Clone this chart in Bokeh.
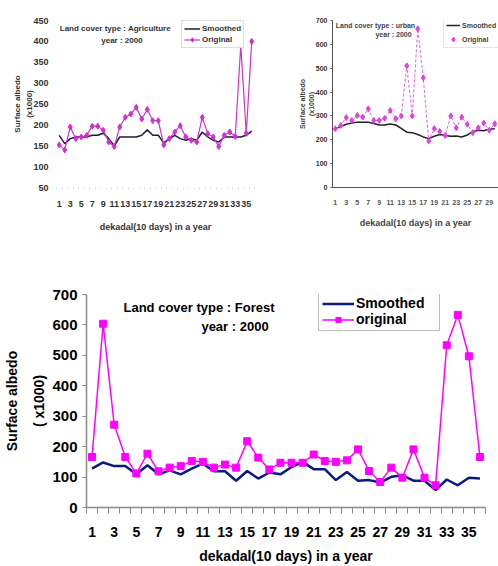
from bokeh.plotting import figure
from bokeh.models import Range1d, FixedTicker, Label, Legend, LegendItem
from bokeh.layouts import column, row
from bokeh.embed import file_html
from bokeh.resources import INLINE

# ---------------- data ----------------
dekads36 = list(range(1, 37))
dekads30 = list(range(1, 31))

agri_smoothed = [175, 155, 167, 171, 171, 171, 175, 175, 180, 167, 150, 171,
                 171, 171, 171, 175, 188, 175, 175, 157, 167, 175, 167, 163,
                 167, 163, 183, 171, 163, 159, 171, 171, 171, 171, 175, 185]
agri_original = [152, 140, 195, 167, 171, 175, 197, 197, 187, 159, 148, 195,
                 218, 226, 242, 214, 237, 210, 210, 152, 167, 183, 198, 171,
                 163, 159, 218, 179, 171, 148, 175, 183, 172, 390, 180, 400]

urban_smoothed = [246, 255, 265, 270, 274, 274, 274, 268, 262, 262, 266, 262,
                  248, 232, 230, 222, 212, 205, 215, 222, 218, 215, 216, 212,
                  220, 235, 240, 238, 244, 246]
urban_original = [246, 260, 293, 281, 302, 295, 330, 281, 281, 290, 323, 288,
                  300, 510, 300, 665, 460, 195, 247, 235, 218, 300, 250, 295,
                  265, 230, 250, 270, 240, 267]

forest_smoothed = [128, 148, 136, 136, 109, 139, 109, 122, 109, 128, 144, 119,
                   119, 88, 120, 95, 115, 109, 133, 150, 126, 126, 90, 117,
                   88, 90, 82, 101, 106, 88, 88, 57, 92, 73, 98, 95]
forest_original = [166, 604, 272, 166, 112, 177, 119, 131, 136, 153, 150, 131,
                   141, 131, 218, 164, 125, 147, 147, 147, 174, 153, 150, 155,
                   191, 120, 84, 131, 98, 191, 98, 73, 533, 633, 497, 166]

odd_ticks_36 = list(range(1, 37, 2))
odd_ticks_30 = list(range(1, 31, 2))
bounds_36 = [i + 0.5 for i in range(0, 37)]
agri_yticks = list(range(50, 451, 50))
albedo_yticks = list(range(0, 701, 100))

FONT = "Liberation Sans"


def base_fig(w, h, xr, yr, bl, br, bt, bb):
    p = figure(width=w, height=h, x_range=xr, y_range=yr,
               output_backend="svg", toolbar_location=None,
               min_border_left=bl, min_border_right=br,
               min_border_top=bt, min_border_bottom=bb)
    p.xgrid.visible = False
    p.ygrid.visible = False
    p.outline_line_color = None
    p.background_fill_color = "white"
    p.border_fill_color = "white"
    for ax in (p.xaxis, p.yaxis):
        ax.major_label_text_font = FONT
        ax.major_label_text_font_style = "bold"
        ax.axis_label_text_font = FONT
        ax.axis_label_text_font_style = "bold"
    return p


def add_data_label(p, text, x, y, size, color="black"):
    p.add_layout(Label(x=x, y=y, text=text, text_align="center",
                       text_baseline="middle", text_font=FONT,
                       text_font_style="bold", text_font_size=size,
                       text_color=color))


# ---------------- top-left: agriculture ----------------
p1 = base_fig(290, 266, Range1d(0.5, 36.5), Range1d(50, 450), 56, 36, 19, 76)
p1.xaxis.ticker = FixedTicker(ticks=odd_ticks_36, minor_ticks=bounds_36)
p1.yaxis.ticker = FixedTicker(ticks=agri_yticks)
p1.xaxis.axis_line_color = None
p1.yaxis.axis_line_color = None
p1.xaxis.major_tick_line_color = None
p1.yaxis.major_tick_line_color = None
p1.xaxis.minor_tick_line_color = "#dddddd"
p1.yaxis.minor_tick_line_color = None
p1.xaxis.major_tick_out = 2
p1.yaxis.major_tick_out = 2
p1.xaxis.minor_tick_out = 2
p1.xaxis.minor_tick_in = 0
p1.xaxis.major_label_standoff = 11
p1.yaxis.major_label_standoff = 6
p1.xaxis.major_label_text_font_size = "9px"
p1.yaxis.major_label_text_font_size = "9px"
p1.xaxis.major_label_text_color = "#333333"
p1.yaxis.major_label_text_color = "#333333"
p1.xaxis.axis_label = "dekadal(10 days) in a year"
p1.xaxis.axis_label_text_font_size = "9px"
p1.xaxis.axis_label_text_color = "#333333"
p1.xaxis.axis_label_standoff = 12
p1.yaxis.axis_label = "Surface albedo\n(x1000)"
p1.yaxis.axis_label_text_font_size = "8px"
p1.yaxis.axis_label_text_line_height = 1.35
p1.yaxis.axis_label_text_color = "#333333"
p1.yaxis.axis_label_standoff = -4

r1s = p1.line(dekads36, agri_smoothed, line_color="#1c1c3c", line_width=1.5)
r1o = p1.line(dekads36, agri_original, line_color="#cc33cc", line_width=1.2)
r1p = p1.scatter(dekads36, agri_original, marker="diamond", size=6,
                 color="#cc33cc")
add_data_label(p1, "Land cover type : Agriculture", 11.2, 431, "8px", "#333333")
add_data_label(p1, "year : 2000", 12.4, 401, "8px", "#333333")
leg1 = Legend(items=[LegendItem(label="Smoothed", renderers=[r1s]),
                     LegendItem(label="Original", renderers=[r1o, r1p])],
              location=(125, 139), margin=0, padding=2, spacing=0,
              glyph_width=16, glyph_height=11, label_height=11,
              label_standoff=2, label_text_font=FONT,
              label_text_font_style="bold", label_text_font_size="8px",
              label_text_color="#333333", border_line_color="#bbbbbb",
              background_fill_color="white")
p1.add_layout(leg1)

# ---------------- top-right: urban (cut off at window edge) ----------------
p2 = base_fig(208, 266, Range1d(0.5, 30.68), Range1d(0, 700), 42, 0, 20, 79)
p2.xaxis.ticker = FixedTicker(ticks=odd_ticks_30)
p2.yaxis.ticker = FixedTicker(ticks=albedo_yticks)
p2.xaxis.axis_line_color = "#555555"
p2.yaxis.axis_line_color = "#555555"
p2.xaxis.major_tick_line_color = None
p2.yaxis.major_tick_line_color = "#555555"
p2.xaxis.minor_tick_line_color = None
p2.yaxis.minor_tick_line_color = None
p2.yaxis.major_tick_out = 2
p2.yaxis.major_tick_in = 0
p2.xaxis.major_tick_out = 0
p2.xaxis.major_label_standoff = 12
p2.yaxis.major_label_standoff = 3
p2.xaxis.major_label_text_font_size = "7px"
p2.yaxis.major_label_text_font_size = "7px"
p2.xaxis.major_label_text_color = "#555555"
p2.yaxis.major_label_text_color = "#333333"
p2.xaxis.axis_label = "dekadal(10 days) in a year"
p2.xaxis.axis_label_text_font_size = "9px"
p2.xaxis.axis_label_text_color = "#444444"
p2.xaxis.axis_label_standoff = 10
p2.yaxis.axis_label = "Surface albedo\n(x1000)"
p2.yaxis.axis_label_text_font_size = "7px"
p2.yaxis.axis_label_text_line_height = 1.3
p2.yaxis.axis_label_text_color = "#444444"
p2.yaxis.axis_label_standoff = -2

r2s = p2.line(dekads30, urban_smoothed, line_color="#222222", line_width=1.5)
r2o = p2.line(dekads30, urban_original, line_color="#e060e0", line_width=1,
              line_dash="3 2")
r2p = p2.scatter(dekads30, urban_original, marker="diamond", size=6,
                 color="#dd44dd")
add_data_label(p2, "Land cover type : urban", 8.3, 680, "7px", "#444444")
add_data_label(p2, "year : 2000", 11.6, 642, "7px", "#444444")
leg2 = Legend(items=[LegendItem(label="Smoothed", renderers=[r2s]),
                     LegendItem(label="Original", renderers=[r2p])],
              location=(111, 139), margin=0, padding=2, spacing=2,
              glyph_width=14, glyph_height=12, label_height=12,
              label_standoff=2, label_text_font=FONT,
              label_text_font_style="bold", label_text_font_size="7px",
              label_text_color="#444444", border_line_color="#cccccc",
              background_fill_color="white")
p2.add_layout(leg2)

# ---------------- bottom: forest ----------------
p3 = base_fig(498, 300, Range1d(0.5, 36.5), Range1d(0, 700), 86, 13, 28, 59)
p3.xaxis.ticker = FixedTicker(ticks=odd_ticks_36, minor_ticks=bounds_36)
p3.yaxis.ticker = FixedTicker(ticks=albedo_yticks)
p3.xaxis.axis_line_color = "#8a8a8a"
p3.yaxis.axis_line_color = "#8a8a8a"
p3.xaxis.axis_line_width = 1.5
p3.yaxis.axis_line_width = 1.5
p3.xaxis.major_tick_line_color = None
p3.xaxis.major_tick_out = 6
p3.xaxis.minor_tick_line_color = "#8a8a8a"
p3.xaxis.minor_tick_out = 6
p3.xaxis.minor_tick_in = 0
p3.yaxis.major_tick_line_color = "#8a8a8a"
p3.yaxis.major_tick_out = 4
p3.yaxis.major_tick_in = 0
p3.yaxis.minor_tick_line_color = None
p3.xaxis.major_label_standoff = 13
p3.yaxis.major_label_standoff = 5
p3.xaxis.major_label_text_font_size = "14px"
p3.yaxis.major_label_text_font_size = "15px"
p3.xaxis.major_label_text_color = "black"
p3.yaxis.major_label_text_color = "black"
p3.xaxis.axis_label = "dekadal(10 days) in a year"
p3.xaxis.axis_label_text_font_size = "14px"
p3.xaxis.axis_label_text_color = "black"
p3.xaxis.axis_label_standoff = 8
p3.yaxis.axis_label = "Surface albedo\n( x1000)"
p3.yaxis.axis_label_text_font_size = "14px"
p3.yaxis.axis_label_text_line_height = 1.7
p3.yaxis.axis_label_text_color = "black"
p3.yaxis.axis_label_standoff = 2

r3s = p3.line(dekads36, forest_smoothed, line_color="#0b1a80", line_width=2.5)
r3o = p3.line(dekads36, forest_original, line_color="#ff00ff", line_width=1.5)
r3p = p3.scatter(dekads36, forest_original, marker="square", size=7,
                 color="#ff00ff")
add_data_label(p3, "Land cover type : Forest", 10.65, 657, "13px")
add_data_label(p3, "year : 2000", 13.9, 595, "13px")
leg3 = Legend(items=[LegendItem(label="Smoothed", renderers=[r3s]),
                     LegendItem(label="original", renderers=[r3o, r3p])],
              location=(232, 176), margin=0, padding=3, spacing=0,
              glyph_width=32, glyph_height=13, label_height=13,
              label_width=80, label_standoff=2, label_text_font=FONT,
              label_text_font_style="bold", label_text_font_size="14px",
              label_text_color="black", border_line_color="#777777",
              border_line_width=1, background_fill_color="white")
p3.add_layout(leg3)

layout = column(row(p1, p2), p3)
open("out.html", "w").write(file_html(layout, INLINE))
